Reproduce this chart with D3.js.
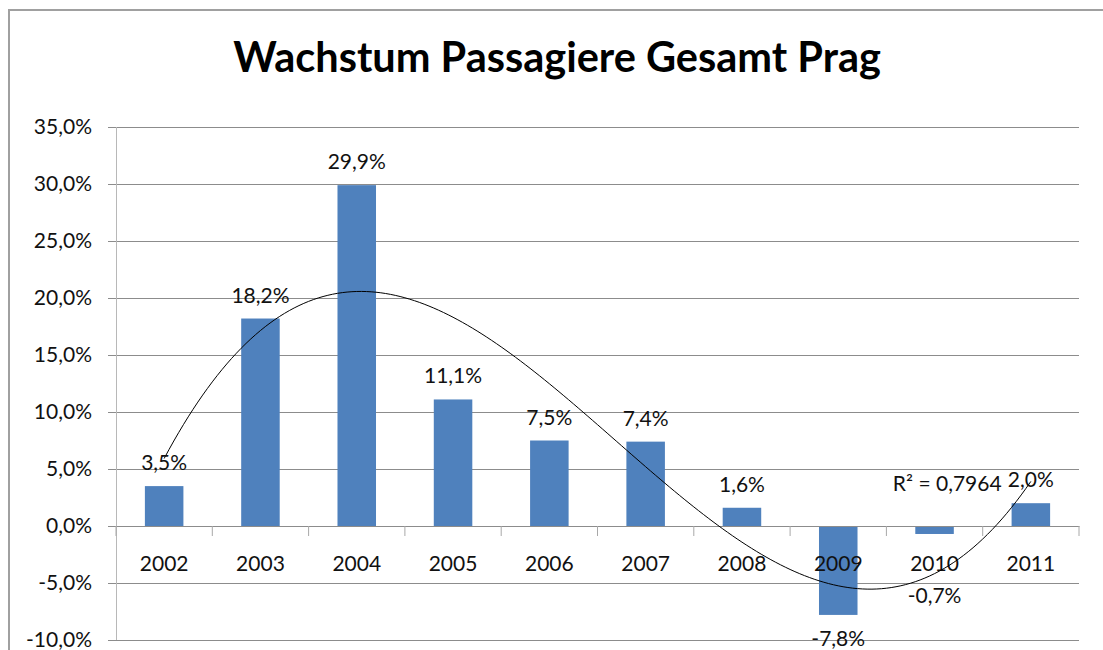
<!DOCTYPE html>
<html>
<head>
<meta charset="utf-8">
<script src="https://cdn.jsdelivr.net/npm/d3@7"></script>
<style>
  html, body { margin: 0; background: #fff; overflow: hidden; }
  svg { display: block; }
  text { font-family: Lato, "Open Sans", sans-serif; fill: #111; }
</style>
</head>
<body>
<div id="viz-container"></div>
<script>
// data
let years = ["2002","2003","2004","2005","2006","2007","2008","2009","2010","2011"];
let growth = [3.5, 18.2, 29.9, 11.1, 7.5, 7.4, 1.6, -7.8, -0.7, 2.0];
let yTicks = [-10, -5, 0, 5, 10, 15, 20, 25, 30, 35];
let chartTitle = "Wachstum Passagiere Gesamt Prag";
let r2Label = "R² = 0,7964";

let viz = d3.select("#viz-container")
    .append("svg")
    .attr("width", 1103)
    .attr("height", 650)
;

viz.append("rect")
  .attr("width", 1103).attr("height", 650)
  .attr("fill", "#fff")
;

viz.append("text")
  .attr("x", 557)
  .attr("y", 72)
  .attr("text-anchor", "middle")
  .style("font-weight", "bold")
  .style("font-size", "41.5px")
  .style("fill", "#000")
  .text(chartTitle)
;

let xScale = d3.scaleBand()
    .domain(years)
    .range([116, 1079])
    .paddingInner(0.6)
    .paddingOuter(0.3)
;
let yScale = d3.scaleLinear()
    .domain([-10, 35])
    .range([640, 127])
;

// excel style: comma decimal, plain hyphen minus
function pct(v){
  return d3.format(".1f")(v).replace(".", ",").replace("\u2212", "-") + "%";
}

// gridlines
viz.selectAll(".grid").data(yTicks).enter()
  .append("line")
    .attr("class", "grid")
    .attr("x1", 108).attr("x2", 1079)
    .attr("y1", d => Math.round(yScale(d)) + 0.5)
    .attr("y2", d => Math.round(yScale(d)) + 0.5)
    .attr("stroke", "#8c8c8c")
;

// y labels via axis (line parts hidden)
let yg = viz.append("g")
  .attr("transform", "translate(108,0)")
  .call(d3.axisLeft(yScale).tickValues(yTicks).tickSize(0).tickPadding(16).tickFormat(pct))
;
yg.select(".domain").remove();
yg.selectAll(".tick text")
  .style("font-size", "21px")
  .style("font-family", "Lato, sans-serif")
  .attr("fill", "#111");

// vertical axis line
viz.append("line")
  .attr("x1", 116.5).attr("x2", 116.5)
  .attr("y1", yScale(35)).attr("y2", yScale(-10))
  .attr("stroke", "#b8b8b8")
;

// bars
viz.selectAll(".bar").data(growth).enter()
  .append("rect")
    .attr("class", "bar")
    .attr("x", (d, i) => xScale(years[i]))
    .attr("width", xScale.bandwidth())
    .attr("y", d => yScale(Math.max(0, d)))
    .attr("height", d => Math.abs(yScale(d) - yScale(0)))
    .attr("fill", "#4f81bd")
;

// category axis on the zero line
let xg = viz.append("g")
  .attr("transform", "translate(0," + yScale(0) + ")")
  .call(d3.axisBottom(xScale).tickSize(0).tickPadding(30))
;
xg.select(".domain").attr("stroke", "#8c8c8c");
xg.selectAll(".tick text")
  .style("font-size", "21px")
  .style("font-family", "Lato, sans-serif")
  .attr("fill", "#111");
let step = xScale.step();
let bounds = d3.range(years.length + 1).map(i => 116 + i * step);
xg.selectAll(".sep").data(bounds).enter()
  .append("line")
    .attr("class", "sep")
    .attr("x1", d => d).attr("x2", d => d)
    .attr("y1", 0).attr("y2", 10)
    .attr("stroke", "#a8a8a8")
;

// polynomial (order 3) trendline, least squares on the bar values
function cubicFit(ys){
  let n = ys.length;
  let xs = d3.range(n).map(i => i + 1);
  let A = [[0,0,0,0],[0,0,0,0],[0,0,0,0],[0,0,0,0]];
  let B = [0,0,0,0];
  xs.forEach((x, k) => {
    for(let r = 0; r < 4; r++){
      for(let c = 0; c < 4; c++){ A[r][c] += Math.pow(x, r + c); }
      B[r] += Math.pow(x, r) * ys[k];
    }
  });
  // gaussian elimination
  for(let p = 0; p < 4; p++){
    for(let r = p + 1; r < 4; r++){
      let f = A[r][p] / A[p][p];
      for(let c = p; c < 4; c++){ A[r][c] -= f * A[p][c]; }
      B[r] -= f * B[p];
    }
  }
  let coef = [0,0,0,0];
  for(let r = 3; r >= 0; r--){
    let s = B[r];
    for(let c = r + 1; c < 4; c++){ s -= A[r][c] * coef[c]; }
    coef[r] = s / A[r][r];
  }
  return x => coef[0] + coef[1]*x + coef[2]*x*x + coef[3]*x*x*x;
}
let trend = cubicFit(growth);
let xPos = x => xScale(years[0]) + xScale.bandwidth() / 2 + (x - 1) * step;
let trendPts = d3.range(1, 10.001, 0.05).map(x => [xPos(x), yScale(trend(x))]);
viz.append("path")
  .attr("d", d3.line()(trendPts))
  .attr("fill", "none")
  .attr("stroke", "#000")
  .attr("stroke-width", 1)
;

// data labels
viz.selectAll(".lbl").data(growth).enter()
  .append("text")
    .attr("class", "lbl")
    .attr("x", (d, i) => xScale(years[i]) + xScale.bandwidth() / 2)
    .attr("y", (d, i) => {
      if(years[i] == "2010") return yScale(-6.1) + 7;
      return d >= 0 ? yScale(d) - 16 : yScale(d) + 31;
    })
    .attr("text-anchor", "middle")
    .style("font-size", "21px")
    .text(pct)
;

viz.append("text")
  .attr("x", xPos(10) - 138)
  .attr("y", yScale(trend(10)) + 10)
  .style("font-size", "21px")
  .text(r2Label)
;

// blank strip right of the plot
viz.append("rect")
  .attr("x", 1082).attr("y", 0)
  .attr("width", 21).attr("height", 650)
  .attr("fill", "#fff")
;

// outer frame (top and left edge only visible)
viz.append("path")
  .attr("d", "M9,652 L9,10 L1110,10")
  .attr("fill", "none")
  .attr("stroke", "#a0a0a0")
  .attr("stroke-width", 2)
;
</script>
</body>
</html>
